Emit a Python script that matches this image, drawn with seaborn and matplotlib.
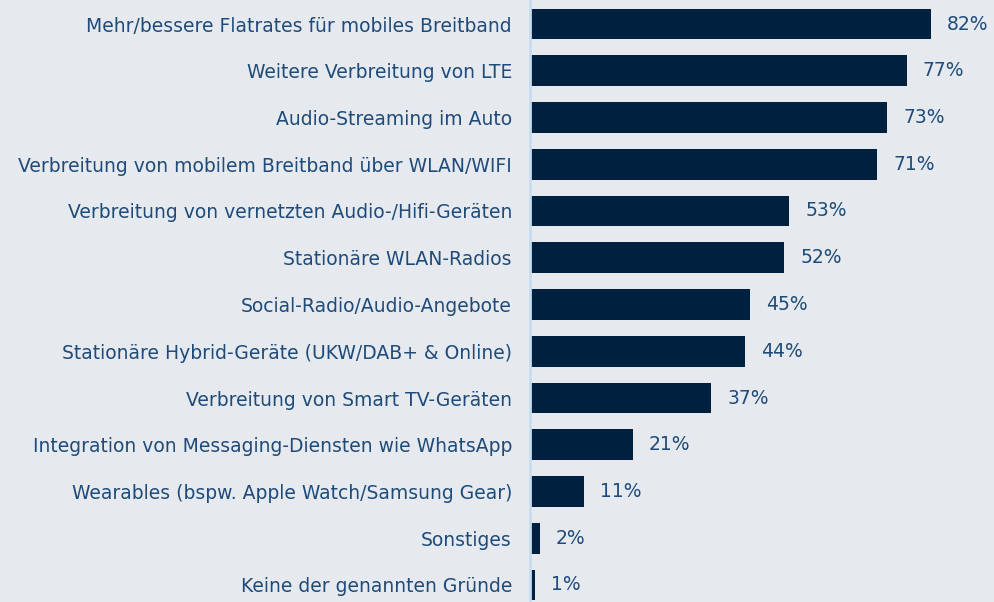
import pandas as pd
import matplotlib.pyplot as plt
import seaborn as sns

# --- data ---
labels = [
    "Mehr/bessere Flatrates für mobiles Breitband",
    "Weitere Verbreitung von LTE",
    "Audio-Streaming im Auto",
    "Verbreitung von mobilem Breitband über WLAN/WIFI",
    "Verbreitung von vernetzten Audio-/Hifi-Geräten",
    "Stationäre WLAN-Radios",
    "Social-Radio/Audio-Angebote",
    "Stationäre Hybrid-Geräte (UKW/DAB+ & Online)",
    "Verbreitung von Smart TV-Geräten",
    "Integration von Messaging-Diensten wie WhatsApp",
    "Wearables (bspw. Apple Watch/Samsung Gear)",
    "Sonstiges",
    "Keine der genannten Gründe",
]
values = [82, 77, 73, 71, 53, 52, 45, 44, 37, 21, 11, 2, 1]

df = pd.DataFrame({"label": labels, "value": values})

bg = "#e6eaef"
bar_color = "#00203f"
text_color = "#1f4b7a"

sns.set_style("white")
plt.rcParams["font.family"] = ["DejaVu Sans"]

fig = plt.figure(figsize=(9.95, 6.02), dpi=100, facecolor=bg)
ax = fig.add_axes([530 / 995, 0, 465 / 995, 1], facecolor=bg)

sns.barplot(data=df, x="value", y="label", color=bar_color, width=0.66,
            saturation=1, linewidth=0, ax=ax, orient="h")

ax.set_xlim(0, 465 / 4.89)
ax.set_ylim(12 + 17 / 46.75, -24 / 46.75)

for i, v in enumerate(values):
    ax.text(v + 3.3, i, f"{v}%", va="center", ha="left",
            fontsize=13.5, color=text_color)

ax.set_xlabel("")
ax.set_ylabel("")
ax.set_xticks([])
ax.tick_params(axis="y", length=0, pad=13, labelsize=13.5, labelcolor=text_color)
for s in ["top", "right", "bottom"]:
    ax.spines[s].set_visible(False)
ax.spines["left"].set_color("#c6dcf2")
ax.spines["left"].set_linewidth(2)

fig.savefig("out.png", dpi=100, facecolor=bg)
